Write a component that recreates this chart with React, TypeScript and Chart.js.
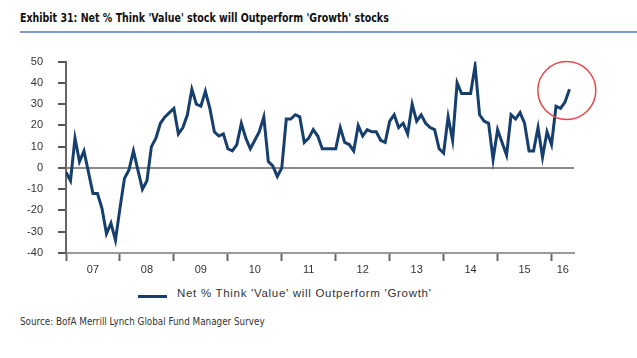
import { useEffect, useRef } from "react";
import { Chart, registerables } from "chart.js";

Chart.register(...registerables);

const TITLE = "Exhibit 31: Net % Think 'Value' stock will Outperform 'Growth' stocks";
const SOURCE = "Source: BofA Merrill Lynch Global Fund Manager Survey";
const SERIES_LABEL = "Net % Think 'Value' will Outperform 'Growth'";

// Year labels (Jan 2007 .. May 2016, monthly)
const YEAR_LABELS = ["07", "08", "09", "10", "11", "12", "13", "14", "15", "16"];

// Monthly values, Jan 2007 .. May 2016
const VALUES_2007 = [-2, -6, 14, 3, 8, -2, -12, -12, -19, -31, -26, -34];
const VALUES_2008 = [-19, -5, -1, 8, -1, -10, -6, 10, 14, 21, 24, 26];
const VALUES_2009 = [28, 16, 19, 25, 37, 30, 29, 36, 28, 17, 15, 16];
const VALUES_2010 = [9, 8, 11, 21, 14, 9, 13, 17, 24, 3, 1, -4];
const VALUES_2011 = [0, 23, 23, 25, 24, 12, 14, 18, 15, 9, 9, 9];
const VALUES_2012 = [9, 19, 12, 11, 8, 20, 15, 18, 17, 17, 13, 12];
const VALUES_2013 = [22, 25, 19, 21, 16, 30, 22, 25, 21, 19, 18, 9];
const VALUES_2014 = [7, 24, 13, 40, 35, 35, 35, 48, 25, 22, 21, 4];
const VALUES_2015 = [18, 12, 6, 25, 23, 26, 21, 8, 8, 19, 5, 17];
const VALUES_2016 = [11, 29, 28, 31, 37];

const VALUES = [
  ...VALUES_2007, ...VALUES_2008, ...VALUES_2009, ...VALUES_2010, ...VALUES_2011,
  ...VALUES_2012, ...VALUES_2013, ...VALUES_2014, ...VALUES_2015, ...VALUES_2016,
];

const Y_MIN = -40;
const Y_MAX = 50;
const Y_STEP = 10;

// highlighted recent readings (circle annotation), in data units
const HIGHLIGHT_X = 111.4;
const HIGHLIGHT_Y = 36.4;

const LINE_COLOR = "#173f6e";

export default function App() {
  const ref = useRef<HTMLCanvasElement>(null);

  useEffect(() => {
    const xMax = VALUES.length; // axis runs a little past the last month
    const xTicks: { value: number; label: string }[] = [];
    YEAR_LABELS.forEach((lab, i) => {
      const start = i * 12;
      const end = Math.min(start + 12, xMax);
      xTicks.push({ value: start, label: "" });
      xTicks.push({ value: (start + end) / 2, label: lab });
    });

    const circlePlugin = {
      id: "highlightCircle",
      afterDatasetsDraw(chart: any) {
        const { ctx, scales } = chart;
        const cx = scales.x.getPixelForValue(HIGHLIGHT_X);
        const cy = scales.y.getPixelForValue(HIGHLIGHT_Y);
        ctx.save();
        ctx.beginPath();
        ctx.arc(cx, cy, 29, 0, Math.PI * 2);
        ctx.strokeStyle = "#e8474a";
        ctx.lineWidth = 1.5;
        ctx.stroke();
        ctx.restore();
      },
    };

    const chart = new Chart(ref.current!, {
      type: "line",
      data: {
        datasets: [
          {
            label: SERIES_LABEL,
            data: VALUES.map((v, i) => ({ x: i, y: v })),
            borderColor: LINE_COLOR,
            backgroundColor: LINE_COLOR,
            borderWidth: 3,
            pointRadius: 0,
            tension: 0,
          },
        ],
      },
      options: {
        animation: false,
        responsive: false,
        layout: { padding: { top: 16, right: 63, left: 0, bottom: 0 } },
        plugins: {
          legend: { display: false },
          tooltip: { enabled: false },
        },
        scales: {
          x: {
            type: "linear",
            min: 0,
            max: xMax,
            afterBuildTicks: (s: any) => {
              s.ticks = xTicks.map((t) => ({ value: t.value }));
            },
            afterFit: (s: any) => {
              s.height = 27;
            },
            grid: {
              drawOnChartArea: false,
              drawTicks: true,
              tickLength: 8,
              tickWidth: 2,
              tickColor: (ctx: any) =>
                ctx.tick && ctx.tick.value % 12 === 0 ? "#666666" : "rgba(0,0,0,0)",
            },
            border: { display: true, color: "#9a9a9a", width: 2 },
            ticks: {
              autoSkip: false,
              maxRotation: 0,
              minRotation: 0,
              padding: 2,
              color: "#333333",
              font: { family: "'Liberation Sans', Arial, sans-serif", size: 11 },
              callback: (_v: any, i: number) => xTicks[i]?.label ?? "",
            },
          },
          y: {
            min: Y_MIN,
            max: Y_MAX,
            afterFit: (s: any) => {
              s.width = 66;
            },
            grid: {
              drawOnChartArea: true,
              lineWidth: 2,
              color: (ctx: any) =>
                ctx.tick && ctx.tick.value === 0 ? "#8a8a8a" : "rgba(0,0,0,0)",
              tickColor: "#555555",
              tickLength: 8,
              tickWidth: 2,
            },
            border: { display: true, color: "#666666", width: 2 },
            ticks: {
              stepSize: Y_STEP,
              padding: 15,
              color: "#333333",
              font: { family: "'Liberation Sans', Arial, sans-serif", size: 11 },
            },
          },
        },
      },
      plugins: [circlePlugin],
    } as any);
    return () => chart.destroy();
  }, []);

  return (
    <div
      style={{
        position: "absolute",
        left: 0,
        top: 0,
        width: 637,
        height: 358,
        background: "#ffffff",
        overflow: "hidden",
      }}
    >
      <div
        style={{
          position: "absolute",
          left: 20,
          top: 10,
          lineHeight: "16px",
          fontFamily: "'DejaVu Sans Condensed', Arial, sans-serif",
          fontWeight: "bold",
          fontSize: 13,
          color: "#111111",
          whiteSpace: "nowrap",
          transform: "scaleX(0.81)",
          transformOrigin: "0 0",
        }}
      >
        {TITLE}
      </div>
      <div
        style={{
          position: "absolute",
          left: 20,
          top: 31,
          width: 617,
          height: 1.5,
          background: "#7e9acb",
        }}
      />
      <canvas
        ref={ref}
        width={637}
        height={240}
        style={{ position: "absolute", left: 0, top: 40, width: 637, height: 240 }}
      />
      <div
        style={{
          position: "absolute",
          left: 138,
          top: 295,
          width: 29,
          height: 3,
          background: LINE_COLOR,
        }}
      />
      <div
        style={{
          position: "absolute",
          left: 177,
          top: 286,
          lineHeight: "14px",
          fontFamily: "'Liberation Sans', Arial, sans-serif",
          fontSize: 11.5,
          letterSpacing: "0.7px",
          color: "#333333",
          whiteSpace: "nowrap",
        }}
      >
        {SERIES_LABEL}
      </div>
      <div
        style={{
          position: "absolute",
          left: 20,
          top: 315,
          lineHeight: "14px",
          fontFamily: "'DejaVu Sans Condensed', Arial, sans-serif",
          fontSize: 11,
          color: "#333333",
          whiteSpace: "nowrap",
          transform: "scaleX(0.89)",
          transformOrigin: "0 0",
        }}
      >
        {SOURCE}
      </div>
    </div>
  );
}
